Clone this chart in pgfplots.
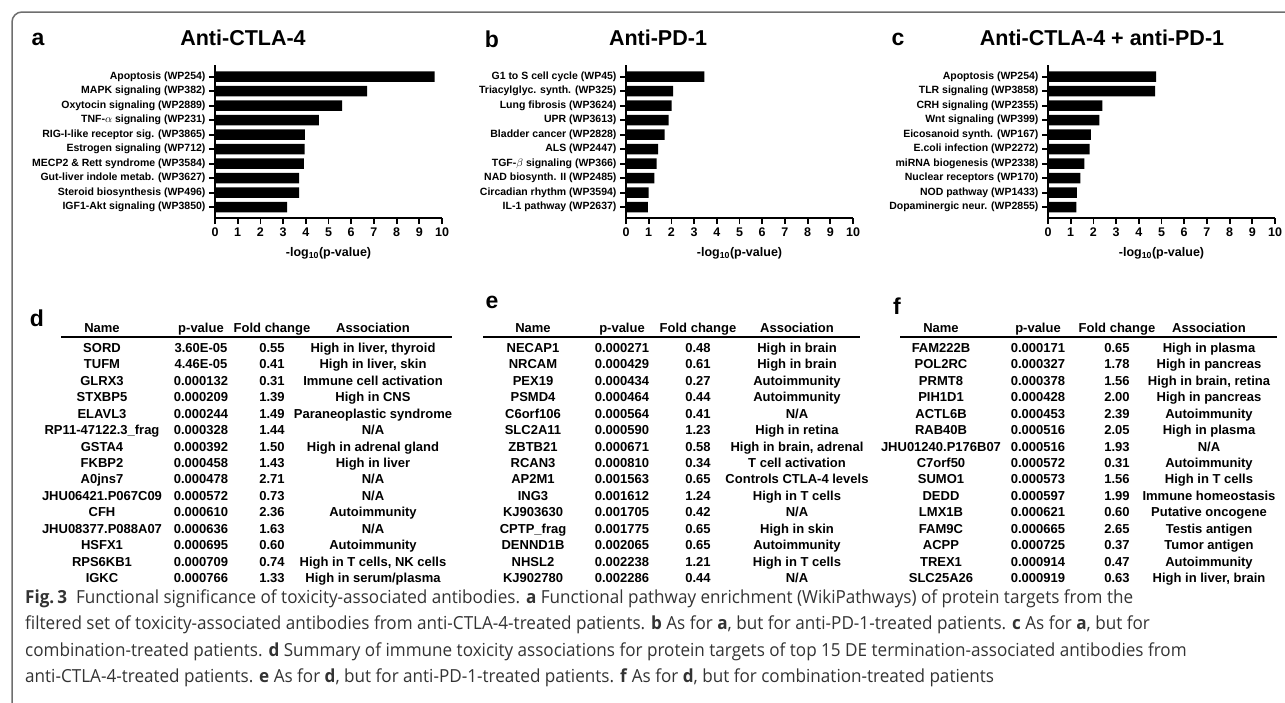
\documentclass[border=0pt]{standalone}
\usepackage{pgfplots}
\pgfplotsset{compat=1.18}
\usepackage{fontspec}
\setmainfont{Liberation Sans}
\newfontfamily\capfont[FakeStretch=0.95]{Open Sans}
\definecolor{framegray}{HTML}{6E6E6E}
\definecolor{capgray}{HTML}{333333}
\newcommand\tabfont{\bfseries\fontsize{13}{15}\selectfont}
\newcommand\ttlfont{\bfseries\fontsize{21.5}{24}\selectfont}
\newcommand\letfont{\bfseries\fontsize{23}{26}\selectfont}
\newcommand\rowat[9]{%
  \node[anchor=base] at (#1pt,{-352.5pt-16.43pt*#5}) {#6};
  \node[anchor=base] at (#2pt,{-352.5pt-16.43pt*#5}) {#7};
  \node[anchor=base] at (#3pt,{-352.5pt-16.43pt*#5}) {#8};
  \node[anchor=base] at (#4pt,{-352.5pt-16.43pt*#5}) {#9};}
\newcommand\drow[5]{\rowat{102}{201}{272}{373}{#1}{#2}{#3}{#4}{#5}}
\newcommand\erow[5]{\rowat{533}{622}{698}{797}{#1}{#2}{#3}{#4}{#5}}
\newcommand\frow[5]{\rowat{941}{1038}{1117}{1209}{#1}{#2}{#3}{#4}{#5}}
\pgfplotsset{panel/.style={scale only axis, width=227pt, height=153pt,
  anchor=south west, xmin=0, xmax=10, ymin=0.25, ymax=10.8,
  xbar, bar width=10.7pt,
  axis x line*=bottom, axis y line*=left,
  axis line style={line width=1.8pt},
  tick style={line width=1.8pt, black},
  major tick length=6pt, tick align=outside,
  xtick={0,...,10}, ytick={1,...,10},
  /pgf/number format/assume math mode=true,
  x tick label style={font=\bfseries\fontsize{12.5}{14}\selectfont},
  y tick label style={font=\bfseries\fontsize{10.5}{12}\selectfont},
  xlabel={-log\textsubscript{10}(p-value)},
  xlabel style={font=\bfseries\fontsize{12.5}{14}\selectfont, yshift=-4pt},
  clip=false}}
\begin{document}
\begin{tikzpicture}
\useasboundingbox (0,0) rectangle (1285pt,-702pt);
\draw[framegray, line width=1.5pt, rounded corners=10pt] (1290pt,-12pt) -- (12pt,-12pt) -- (12pt,-705pt);

% Panel a
\begin{axis}[panel, at={(215pt,-218pt)},
  yticklabels={IGF1-Akt signaling (WP3850), Steroid biosynthesis (WP496), Gut-liver indole metab. (WP3627), MECP2 \& Rett syndrome (WP3584), Estrogen signaling (WP712), RIG-I-like receptor sig. (WP3865), TNF-$\alpha$ signaling (WP231), Oxytocin signaling (WP2889), MAPK signaling (WP382), Apoptosis (WP254)}]
\addplot[fill=black, draw=none] coordinates {(3.18,1) (3.71,2) (3.71,3) (3.92,4) (3.95,5) (3.96,6) (4.58,7) (5.60,8) (6.70,9) (9.68,10)};
\end{axis}
% Panel b
\begin{axis}[panel, at={(626pt,-218pt)},
  yticklabels={IL-1 pathway (WP2637), Circadian rhythm (WP3594), NAD biosynth. II (WP2485), TGF-$\beta$ signaling (WP366), ALS (WP2447), Bladder cancer (WP2828), UPR (WP3613), Lung fibrosis (WP3624), Triacylglyc. synth. (WP325), G1 to S cell cycle (WP45)}]
\addplot[fill=black, draw=none] coordinates {(0.96,1) (1.00,2) (1.25,3) (1.35,4) (1.41,5) (1.70,6) (1.88,7) (2.01,8) (2.08,9) (3.45,10)};
\end{axis}
% Panel c
\begin{axis}[panel, at={(1048pt,-218pt)},
  yticklabels={Dopaminergic neur. (WP2855), NOD pathway (WP1433), Nuclear receptors (WP170), miRNA biogenesis (WP2338), E.coli infection (WP2272), Eicosanoid synth. (WP167), Wnt signaling (WP399), CRH signaling (WP2355), TLR signaling (WP3858), Apoptosis (WP254)}]
\addplot[fill=black, draw=none] coordinates {(1.25,1) (1.27,2) (1.43,3) (1.60,4) (1.83,5) (1.89,6) (2.26,7) (2.40,8) (4.72,9) (4.76,10)};
\end{axis}

% titles
\node[font=\letfont] at (38pt,-39pt) {a};
\node[font=\ttlfont] at (243pt,-38pt) {Anti-CTLA-4};
\node[font=\letfont] at (492pt,-39pt) {b};
\node[font=\ttlfont] at (658pt,-38pt) {Anti-PD-1};
\node[font=\letfont] at (898pt,-39pt) {c};
\node[font=\ttlfont] at (1102pt,-38pt) {Anti-CTLA-4 + anti-PD-1};

% tables
\node[font=\letfont] at (37pt,-318pt) {d};
\node[font=\letfont] at (492pt,-302pt) {e};
\node[font=\letfont] at (897pt,-306pt) {f};
\begin{scope}[every node/.style={font=\tabfont, inner sep=0pt}]
\foreach \cx/\cy/\cz/\cw in {102/201/272/373, 533/622/698/797, 941/1038/1117/1209}{
  \node[anchor=base] at (\cx pt,-332pt) {Name};
  \node[anchor=base] at (\cy pt,-332pt) {p-value};
  \node[anchor=base] at (\cz pt,-332pt) {Fold change};
  \node[anchor=base] at (\cw pt,-332pt) {Association};
}
\draw[line width=2pt] (61pt,-336.7pt) -- (452pt,-336.7pt);
\draw[line width=2pt] (483pt,-336.7pt) -- (860pt,-336.7pt);
\draw[line width=2pt] (900pt,-336.7pt) -- (1277pt,-336.7pt);

\drow{0}{SORD}{3.60E-05}{0.55}{High in liver, thyroid}
\drow{1}{TUFM}{4.46E-05}{0.41}{High in liver, skin}
\drow{2}{GLRX3}{0.000132}{0.31}{Immune cell activation}
\drow{3}{STXBP5}{0.000209}{1.39}{High in CNS}
\drow{4}{ELAVL3}{0.000244}{1.49}{Paraneoplastic syndrome}
\drow{5}{RP11-47122.3\_frag}{0.000328}{1.44}{N/A}
\drow{6}{GSTA4}{0.000392}{1.50}{High in adrenal gland}
\drow{7}{FKBP2}{0.000458}{1.43}{High in liver}
\drow{8}{A0jns7}{0.000478}{2.71}{N/A}
\drow{9}{JHU06421.P067C09}{0.000572}{0.73}{N/A}
\drow{10}{CFH}{0.000610}{2.36}{Autoimmunity}
\drow{11}{JHU08377.P088A07}{0.000636}{1.63}{N/A}
\drow{12}{HSFX1}{0.000695}{0.60}{Autoimmunity}
\drow{13}{RPS6KB1}{0.000709}{0.74}{High in T cells, NK cells}
\drow{14}{IGKC}{0.000766}{1.33}{High in serum/plasma}

\erow{0}{NECAP1}{0.000271}{0.48}{High in brain}
\erow{1}{NRCAM}{0.000429}{0.61}{High in brain}
\erow{2}{PEX19}{0.000434}{0.27}{Autoimmunity}
\erow{3}{PSMD4}{0.000464}{0.44}{Autoimmunity}
\erow{4}{C6orf106}{0.000564}{0.41}{N/A}
\erow{5}{SLC2A11}{0.000590}{1.23}{High in retina}
\erow{6}{ZBTB21}{0.000671}{0.58}{High in brain, adrenal}
\erow{7}{RCAN3}{0.000810}{0.34}{T cell activation}
\erow{8}{AP2M1}{0.001563}{0.65}{Controls CTLA-4 levels}
\erow{9}{ING3}{0.001612}{1.24}{High in T cells}
\erow{10}{KJ903630}{0.001705}{0.42}{N/A}
\erow{11}{CPTP\_frag}{0.001775}{0.65}{High in skin}
\erow{12}{DENND1B}{0.002065}{0.65}{Autoimmunity}
\erow{13}{NHSL2}{0.002238}{1.21}{High in T cells}
\erow{14}{KJ902780}{0.002286}{0.44}{N/A}

\frow{0}{FAM222B}{0.000171}{0.65}{High in plasma}
\frow{1}{POL2RC}{0.000327}{1.78}{High in pancreas}
\frow{2}{PRMT8}{0.000378}{1.56}{High in brain, retina}
\frow{3}{PIH1D1}{0.000428}{2.00}{High in pancreas}
\frow{4}{ACTL6B}{0.000453}{2.39}{Autoimmunity}
\frow{5}{RAB40B}{0.000516}{2.05}{High in plasma}
\frow{6}{JHU01240.P176B07}{0.000516}{1.93}{N/A}
\frow{7}{C7orf50}{0.000572}{0.31}{Autoimmunity}
\frow{8}{SUMO1}{0.000573}{1.56}{High in T cells}
\frow{9}{DEDD}{0.000597}{1.99}{Immune homeostasis}
\frow{10}{LMX1B}{0.000621}{0.60}{Putative oncogene}
\frow{11}{FAM9C}{0.000665}{2.65}{Testis antigen}
\frow{12}{ACPP}{0.000725}{0.37}{Tumor antigen}
\frow{13}{TREX1}{0.000914}{0.47}{Autoimmunity}
\frow{14}{SLC25A26}{0.000919}{0.63}{High in liver, brain}
\end{scope}

% caption
\begin{scope}[every node/.style={anchor=base west, inner sep=0pt, text=capgray, font=\capfont\fontsize{18}{21}\selectfont}]
\node at (25pt,-603pt) {\textbf{Fig.\,3}\enspace Functional significance of toxicity-associated antibodies. \textbf{a} Functional pathway enrichment (WikiPathways) of protein targets from the};
\node at (25pt,-629.5pt) {filtered set of toxicity-associated antibodies from anti-CTLA-4-treated patients. \textbf{b} As for \textbf{a}, but for anti-PD-1-treated patients. \textbf{c} As for \textbf{a}, but for};
\node at (25pt,-656pt) {combination-treated patients. \textbf{d} Summary of immune toxicity associations for protein targets of top 15 DE termination-associated antibodies from};
\node at (25pt,-682.5pt) {anti-CTLA-4-treated patients. \textbf{e} As for \textbf{d}, but for anti-PD-1-treated patients. \textbf{f} As for \textbf{d}, but for combination-treated patients};
\end{scope}
\end{tikzpicture}
\end{document}
